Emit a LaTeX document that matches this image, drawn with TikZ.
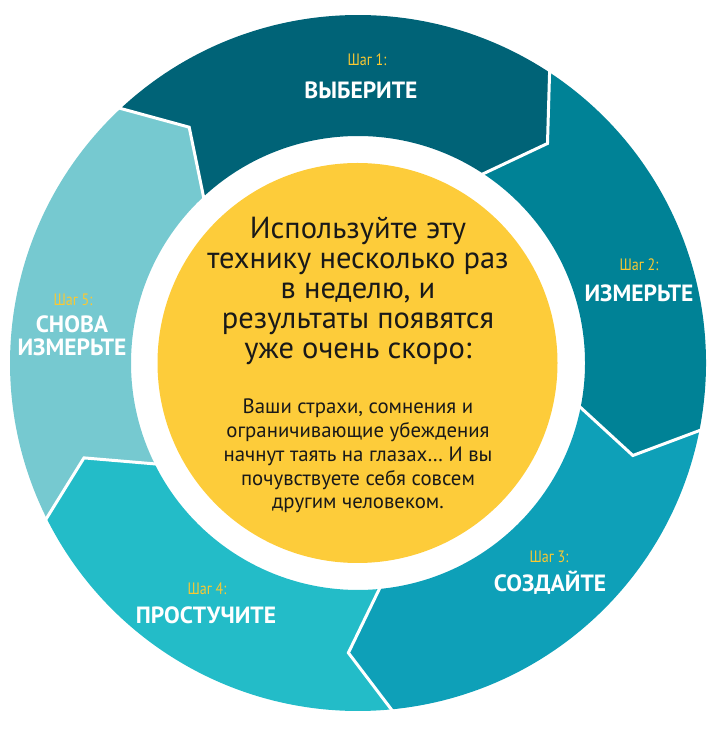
\documentclass[tikz,border=0pt]{standalone}
\usepackage{fontspec}
\setmainfont{PT Sans}
\newfontfamily\stepfont[FakeStretch=0.85]{PT Sans}
\usetikzlibrary{calc}
\definecolor{segA}{RGB}{0,99,119}
\definecolor{segB}{RGB}{0,130,150}
\definecolor{segC}{RGB}{14,160,184}
\definecolor{segD}{RGB}{35,188,200}
\definecolor{segE}{RGB}{118,201,208}
\definecolor{sun}{RGB}{253,204,58}
\definecolor{steplbl}{RGB}{250,200,50}
\definecolor{ink}{RGB}{25,25,25}
\begin{document}
\begin{tikzpicture}[x=1pt,y=1pt,
  steplabel/.style={text=steplbl,font=\stepfont\fontsize{16.5}{18}\selectfont,inner sep=0},
  titlelabel/.style={text=white,font=\bfseries\fontsize{23.5}{23.5}\selectfont,inner sep=0,align=center},
  gapline/.style={white,line width=3pt,line join=miter}]
\useasboundingbox (0,0) rectangle (719,731);
\coordinate (C) at (358,368);
\def\Ro{348}\def\Ri{227}\def\Rt{290}\def\dl{7.6}
\foreach \s/\e/\col in {133.2/56.8/segA, 56.8/-11/segB, -11/-84.3/segC, -84.3/-153.3/segD, -153.3/-226.8/segE}{
  \fill[\col] ($(C)+(\s:\Ro)$) arc[start angle=\s, end angle=\e, radius=\Ro]
    -- ($(C)+(\e-\dl:\Rt)$) -- ($(C)+(\e:\Ri)$)
    arc[start angle=\e, end angle=\s, radius=\Ri]
    -- ($(C)+(\s-\dl:\Rt)$) -- cycle;
}
\foreach \b in {56.8,-11,-84.3,-153.3,133.2}{
  \draw[gapline] ($(C)+(\b:\Ro+2)$) -- ($(C)+(\b-\dl:\Rt)$) -- ($(C)+(\b:\Ri-2)$);
}
\fill[sun] (357.5,368) circle[radius=200];
% step labels
\node[steplabel] (s1) at (367,671) {Шаг 1:};
\node[titlelabel] (t1) at (361,641) {ВЫБЕРИТЕ};
\node[steplabel] (s2) at (639,466) {Шаг 2:};
\node[titlelabel] (t2) at (639,438) {ИЗМЕРЬТЕ};
\node[steplabel] (s3) at (549,174) {Шаг 3:};
\node[titlelabel] (t3) at (550,148) {СОЗДАЙТЕ};
\node[steplabel] (s4) at (207,142) {Шаг 4:};
\node[titlelabel] (t4) at (206,116) {ПРОСТУЧИТЕ};
\node[steplabel] (s5) at (73,431) {Шаг 5:};
\node[titlelabel] (t5) at (72,395) {СНОВА\\[-0.5pt]ИЗМЕРЬТЕ};
% center texts
\node[text=ink,align=center,inner sep=0,font=\fontsize{30.5}{30.2}\selectfont] (main) at (358,440)
  {Используйте эту\\технику несколько раз\\в неделю, и\\результаты появятся\\уже очень скоро:};
\node[text=ink,align=center,inner sep=0,font=\fontsize{20.8}{23.8}\selectfont] (sub) at (358,275)
  {Ваши страхи, сомнения и\\ограничивающие убеждения\\начнут таять на глазах\ldots\ И вы\\почувствуете себя совсем\\другим человеком.};
\end{tikzpicture}
\end{document}
